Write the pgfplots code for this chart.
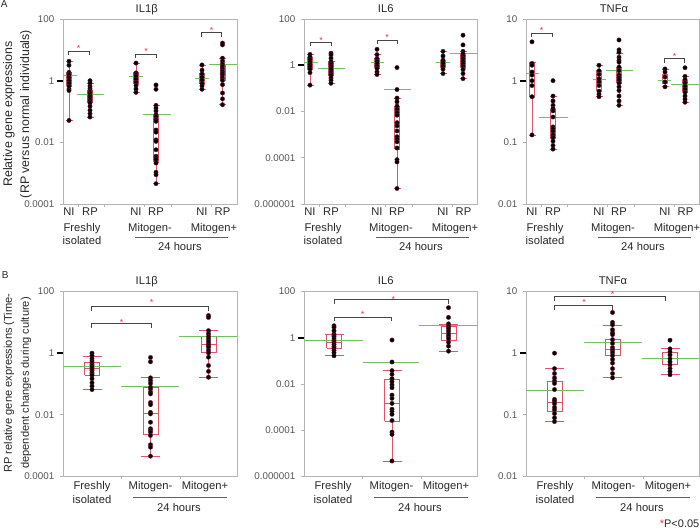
\documentclass[border=0pt]{standalone}
\usepackage{fontspec}
\setmainfont{Liberation Sans}
\usepackage{pgfplots}
\usepackage{pgfplotstable}
\pgfplotsset{compat=1.18}

\definecolor{axgray}{RGB}{180,180,180}
\definecolor{tkgray}{RGB}{85,85,85}
\definecolor{txt}{RGB}{40,40,40}
\definecolor{boxred}{RGB}{226,82,104}
\definecolor{meangreen}{RGB}{112,194,96}
\definecolor{ptedge}{RGB}{105,25,45}
\definecolor{brgray}{RGB}{70,70,70}
\definecolor{starred}{RGB}{236,52,58}

% all values are log10 of the relative gene expression
% ---------- IL1beta ----------
\pgfplotstableread{
y
0.63
0.50
0.27
0.22
0.19
0.10
0.00
-0.08
-0.18
-0.27
-0.32
-1.29
}\IlbNIf
\pgfplotstableread{
y
0.00
-0.08
-0.18
-0.25
-0.31
-0.36
-0.40
-0.46
-0.51
-0.56
-0.62
-0.67
-0.72
-0.83
-0.96
-1.07
-1.18
}\IlbRPf
\pgfplotstableread{
y
0.57
0.25
0.20
0.14
0.05
-0.05
-0.16
-0.27
-0.38
}\IlbNIm
\pgfplotstableread{
y
-0.14
-0.28
-0.80
-0.89
-0.98
-1.10
-1.16
-1.26
-1.32
-1.60
-1.67
-1.92
-1.97
-2.24
-2.45
-2.50
-2.56
-2.67
-2.97
-3.05
-3.34
}\IlbRPm
\pgfplotstableread{
y
0.51
0.34
0.22
0.11
0.02
-0.09
-0.17
-0.28
}\IlbNIp
\pgfplotstableread{
y
1.22
1.16
0.73
0.63
0.54
0.46
0.38
0.30
0.24
0.19
0.09
0.01
-0.13
-0.40
-0.59
-0.78
}\IlbRPp
% ---------- IL6 ----------
\pgfplotstableread{
y
0.47
0.36
0.26
0.14
0.03
-0.07
-0.17
-0.32
-0.86
}\IlsNIf
\pgfplotstableread{
y
0.52
0.45
0.30
0.16
0.09
0.04
-0.05
-0.14
-0.20
-0.29
-0.38
-0.45
-0.55
-0.65
-0.78
}\IlsRPf
\pgfplotstableread{
y
0.69
0.46
0.29
0.17
0.07
-0.03
-0.14
-0.29
-0.40
}\IlsNIm
\pgfplotstableread{
y
-0.10
-1.05
-1.42
-1.58
-1.77
-1.90
-2.04
-2.16
-2.48
-2.62
-2.84
-3.09
-3.19
-3.31
-3.58
-4.08
-4.18
-5.33
}\IlsRPm
\pgfplotstableread{
y
0.60
0.40
0.22
0.10
-0.03
-0.17
-0.36
}\IlsNIp
\pgfplotstableread{
y
1.30
0.88
0.60
0.50
0.40
0.29
0.17
0.07
-0.04
-0.19
-0.36
-0.58
}\IlsRPp
% ---------- TNFalpha ----------
\pgfplotstableread{
y
0.63
0.28
0.25
0.14
0.09
0.00
-0.08
-0.26
-0.88
}\TnNIf
\pgfplotstableread{
y
0.00
-0.25
-0.33
-0.40
-0.45
-0.49
-0.59
-0.75
-0.78
-0.82
-0.88
-0.92
-0.98
-1.05
-1.11
}\TnRPf
\pgfplotstableread{
y
0.25
0.16
0.10
0.03
-0.02
-0.08
-0.17
-0.22
-0.26
}\TnNIm
\pgfplotstableread{
y
0.66
0.50
0.46
0.38
0.33
0.30
0.22
0.16
0.09
0.05
0.01
-0.04
-0.10
-0.16
-0.25
-0.33
-0.40
}\TnRPm
\pgfplotstableread{
y
0.19
0.14
0.06
-0.02
-0.10
}\TnNIp
\pgfplotstableread{
y
0.21
0.07
0.02
-0.03
-0.09
-0.14
-0.19
-0.25
-0.30
-0.35
}\TnRPp

\pgfplotsset{
  panel/.style={anchor=south west, scale only axis, height=185pt, xmin=0, clip=false,
    disabledatascaling, unbounded coords=jump,
    axis line style={draw=axgray, line width=0.8pt},
    tick style={draw=axgray, line width=0.7pt},
    tick align=outside, major tick length=3pt, tick pos=left,
    xticklabels={},
    yticklabel style={font=\fontsize{9.8}{11}\selectfont, text=tkgray, xshift=-2.2pt},
    /pgf/number format/assume math mode=true,
    extra y ticks={0}, extra y tick labels={},
    extra y tick style={major tick length=6pt, tick style={draw=black, line width=1.8pt}},
  },
  paneltop/.style={panel, xtick={15,41,81,108,148}},
  panelbot/.style={panel, xtick={58.5,117}},
}

% box: #1 position, #2 lower whisker, #3 lower quartile, #4 median, #5 upper quartile, #6 upper whisker, #7 half box width, #8 half cap width
\newcommand{\bx}[8]{%
  \pgfmathsetmacro\xa{#1-#7}\pgfmathsetmacro\xb{#1+#7}%
  \pgfmathsetmacro\ca{#1-#8}\pgfmathsetmacro\cb{#1+#8}%
  \addplot[boxred, line width=0.8pt] coordinates {(\xa,#3) (\xb,#3) (\xb,#5) (\xa,#5) (\xa,#3) (nan,nan)
    (\xa,#4) (\xb,#4) (nan,nan) (#1,#5) (#1,#6) (nan,nan) (\ca,#6) (\cb,#6) (nan,nan)
    (#1,#3) (#1,#2) (nan,nan) (\ca,#2) (\cb,#2)};}
\newcommand{\bxA}[6]{\bx{#1}{#2}{#3}{#4}{#5}{#6}{2.5}{3.5}}
\newcommand{\bxB}[6]{\bx{#1}{#2}{#3}{#4}{#5}{#6}{7.5}{9.5}}
\newcommand{\pts}[2]{\addplot[only marks, mark=*, mark size=2.2pt, mark options={fill=black, draw=ptedge, line width=0.35pt}] table[x expr=#1, y=y] {#2};}
\newcommand{\mn}[3]{\addplot[meangreen, line width=1pt] coordinates {(#1,#3) (#2,#3)};}
\newcommand{\brk}[6]{\draw[brgray, line width=0.9pt] (axis cs:#1,#4) -- (axis cs:#1,#3) -- (axis cs:#2,#3) -- (axis cs:#2,#4);
  \node[text=starred, font=\fontsize{9}{9}\selectfont, inner sep=0pt, yshift=-1.9pt] at (axis cs:#5,#6) {*};}

\tikzset{
  lab/.style={anchor=base, inner sep=0pt, text=txt, font=\fontsize{11.2}{13}\selectfont},
  ttl/.style={anchor=base, inner sep=0pt, text=txt, font=\fontsize{11.2}{13}\selectfont},
}

\newcommand{\Alab}[1]{%
\begin{scope}[shift={(#1,0)}]
\node[lab] at (6,313.3) {NI};
\node[lab] at (27,313.3) {RP};
\node[lab] at (73,313.3) {NI};
\node[lab] at (93,313.3) {RP};
\node[lab] at (139,313.3) {NI};
\node[lab] at (159.5,313.3) {RP};
\node[lab] at (19,297.3) {Freshly};
\node[lab] at (19,284.7) {isolated};
\node[lab] at (87,297.3) {Mitogen-};
\node[lab] at (151,297.3) {Mitogen+};
\draw[txt!75, line width=0.8pt] (72,291.7) -- (165,291.7);
\node[lab] at (117,278) {24 hours};
\end{scope}}

\newcommand{\Blab}[1]{%
\begin{scope}[shift={(#1,0)}]
\node[lab] at (29,39) {Freshly};
\node[lab] at (29,25.7) {isolated};
\node[lab] at (87.5,39) {Mitogen-};
\node[lab] at (142,39) {Mitogen+};
\draw[txt!75, line width=0.8pt] (70,31.7) -- (164,31.7);
\node[lab] at (116,17.3) {24 hours};
\end{scope}}

\begin{document}
\begin{tikzpicture}[x=1pt,y=1pt]
\path[use as bounding box] (0,0) rectangle (700,529);

% ================= A: IL1beta =================
\begin{axis}[paneltop, at={(63pt,325pt)}, width=174pt, xmax=174, ymin=-4, ymax=2,
  ytick={-4,-2,0,2}, yticklabels={0.0001,0.01,1,100}]
\pts{6}{\IlbNIf}
\pts{27}{\IlbRPf}
\pts{73}{\IlbNIm}
\pts{93}{\IlbRPm}
\pts{139}{\IlbNIp}
\pts{159.5}{\IlbRPp}
\bxA{6}{-1.29}{-0.18}{0.10}{0.27}{0.63}
\bxA{27}{-1.18}{-0.72}{-0.49}{-0.31}{-0.10}
\bxA{73}{-0.38}{-0.12}{0.08}{0.27}{0.57}
\bxA{93}{-3.34}{-2.65}{-1.93}{-1.10}{-0.80}
\bxA{139}{-0.28}{-0.12}{0.05}{0.22}{0.51}
\bxA{159.5}{-0.78}{0.01}{0.30}{0.54}{0.73}
\mn{0}{13.5}{0.17}
\mn{13.5}{41}{-0.44}
\mn{66}{80}{0.12}
\mn{80}{107.5}{-1.09}
\mn{132}{146}{0.06}
\mn{146}{174}{0.54}
\brk{5.5}{26}{0.94}{0.83}{15.5}{1.1}
\brk{72.7}{93}{0.86}{0.75}{83}{1.01}
\brk{138.7}{158.7}{1.57}{1.42}{148.7}{1.7}
\end{axis}

% ================= A: IL6 =================
\begin{axis}[paneltop, at={(304pt,325pt)}, width=173pt, xmax=173, ymin=-6, ymax=2,
  ytick={-6,-4,-2,0,2}, yticklabels={0.000001,0.0001,0.01,1,100}]
\pts{6}{\IlsNIf}
\pts{27}{\IlsRPf}
\pts{73}{\IlsNIm}
\pts{93}{\IlsRPm}
\pts{139}{\IlsNIp}
\pts{159}{\IlsRPp}
\bxA{6}{-0.86}{-0.20}{0.05}{0.36}{0.47}
\bxA{27}{-0.78}{-0.46}{-0.20}{0.13}{0.16}
\bxA{73}{-0.40}{-0.14}{0.07}{0.29}{0.46}
\bxA{93}{-5.33}{-3.62}{-2.80}{-1.80}{-1.42}
\bxA{139}{-0.36}{-0.10}{0.05}{0.22}{0.60}
\bxA{159}{-0.58}{-0.12}{0.20}{0.50}{0.58}
\mn{0}{13.5}{0.12}
\mn{13.5}{41}{-0.13}
\mn{67}{80}{0.14}
\mn{80}{107}{-1.07}
\mn{132}{145.5}{0.10}
\mn{145.5}{173}{0.52}
\brk{6.7}{27.7}{0.98}{0.82}{17}{1.15}
\brk{73.3}{93.3}{1.09}{0.93}{83}{1.29}
\end{axis}

% ================= A: TNFalpha =================
\begin{axis}[paneltop, at={(526pt,325pt)}, width=173pt, xmax=173, ymin=-2, ymax=1,
  ytick={-2,-1,0,1}, yticklabels={0.01,0.1,1,10}]
\pts{6}{\TnNIf}
\pts{27}{\TnRPf}
\pts{73}{\TnNIm}
\pts{93}{\TnRPm}
\pts{139}{\TnNIp}
\pts{159}{\TnRPp}
\bxA{6}{-0.88}{-0.27}{0.00}{0.28}{0.30}
\bxA{27}{-1.11}{-0.94}{-0.80}{-0.46}{-0.25}
\bxA{73}{-0.26}{-0.17}{0.00}{0.16}{0.25}
\bxA{93}{-0.40}{-0.04}{0.07}{0.22}{0.45}
\bxA{139}{-0.10}{-0.05}{0.00}{0.10}{0.19}
\bxA{159}{-0.35}{-0.19}{-0.09}{0.01}{0.07}
\mn{0}{13.3}{0.12}
\mn{13.3}{41.5}{-0.60}
\mn{66.5}{80}{0.02}
\mn{80}{107}{0.17}
\mn{132}{145.3}{0.00}
\mn{145.3}{173}{-0.07}
\brk{5.3}{26}{0.77}{0.71}{15.7}{0.84}
\brk{138.7}{158.7}{0.36}{0.29}{148.7}{0.42}
\end{axis}

% ================= B: IL1beta =================
\begin{axis}[panelbot, at={(63pt,52.5pt)}, width=174pt, xmax=174, ymin=-4, ymax=2,
  ytick={-4,-2,0,2}, yticklabels={0.0001,0.01,1,100}]
\pts{29}{\IlbRPf}
\pts{87.5}{\IlbRPm}
\pts{145.5}{\IlbRPp}
\bxB{29}{-1.18}{-0.72}{-0.48}{-0.31}{-0.10}
\bxB{87.5}{-3.34}{-2.65}{-1.94}{-1.10}{-0.80}
\bxB{145.5}{-0.78}{0.01}{0.30}{0.54}{0.73}
\mn{0}{58}{-0.44}
\mn{58}{116}{-1.09}
\mn{116}{174}{0.54}
\brk{28.7}{88}{0.95}{0.81}{58.7}{1.05}
\brk{28.7}{145}{1.52}{1.38}{88.7}{1.7}
\end{axis}

% ================= B: IL6 =================
\begin{axis}[panelbot, at={(304pt,52.5pt)}, width=173pt, xmax=173, ymin=-6, ymax=2,
  ytick={-6,-4,-2,0,2}, yticklabels={0.000001,0.0001,0.01,1,100}]
\pts{30}{\IlsRPf}
\pts{88}{\IlsRPm}
\pts{144.5}{\IlsRPp}
\bxB{30}{-0.78}{-0.46}{-0.22}{0.13}{0.16}
\bxB{88}{-5.33}{-3.62}{-2.82}{-1.80}{-1.42}
\bxB{144.5}{-0.58}{-0.12}{0.19}{0.48}{0.56}
\mn{0}{59}{-0.13}
\mn{59}{115}{-1.08}
\mn{115}{173}{0.51}
\brk{30}{87.7}{0.89}{0.72}{58.7}{1.1}
\brk{30}{144.3}{1.65}{1.47}{89.3}{1.75}
\end{axis}

% ================= B: TNFalpha =================
\begin{axis}[panelbot, at={(526pt,52.5pt)}, width=173pt, xmax=173, ymin=-2, ymax=1,
  ytick={-2,-1,0,1}, yticklabels={0.01,0.1,1,10}]
\pts{28.5}{\TnRPf}
\pts{86.5}{\TnRPm}
\pts{144}{\TnRPp}
\bxB{28.5}{-1.11}{-0.94}{-0.80}{-0.46}{-0.25}
\bxB{86.5}{-0.40}{-0.04}{0.06}{0.22}{0.45}
\bxB{144}{-0.35}{-0.19}{-0.09}{0.01}{0.07}
\mn{0}{58}{-0.60}
\mn{58}{116}{0.17}
\mn{116}{173}{-0.08}
\brk{28.3}{86.3}{0.78}{0.70}{58}{0.85}
\brk{28.3}{139.7}{0.92}{0.85}{86.7}{0.98}
\end{axis}

% ---------- labels ----------
\node[anchor=base west, inner sep=0pt, text=txt, font=\fontsize{10}{12}\selectfont] at (0.7,521.7) {A};
\node[anchor=base west, inner sep=0pt, text=txt, font=\fontsize{10}{12}\selectfont] at (1.7,250.7) {B};

\node[ttl] at (146.7,516.3) {IL1β};
\node[ttl] at (385.7,516.3) {IL6};
\node[ttl] at (614,516.3) {TNFα};
\node[ttl] at (146.7,244) {IL1β};
\node[ttl] at (385.7,244) {IL6};
\node[ttl] at (613,244) {TNFα};

\node[rotate=90, inner sep=0pt, text=txt, font=\fontsize{12.4}{14}\selectfont] at (9,415) {Relative gene expressions};
\node[rotate=90, inner sep=0pt, text=txt, font=\fontsize{12.4}{14}\selectfont] at (26,415) {(RP versus normal individuals)};
\node[rotate=90, inner sep=0pt, text=txt, font=\fontsize{11.1}{13}\selectfont] at (9,146) {RP relative gene expressions (Time-};
\node[rotate=90, inner sep=0pt, text=txt, font=\fontsize{11.1}{13}\selectfont] at (26,146) {dependent changes during culture)};

\Alab{63}
\Alab{304}
\Alab{526}
\Blab{63}
\Blab{304}
\Blab{526}

\node[anchor=base east, inner sep=0pt, text=txt, font=\fontsize{11}{13}\selectfont] at (699.5,1.7) {\textcolor{starred}{*}P<0.05};
\end{tikzpicture}
\end{document}
